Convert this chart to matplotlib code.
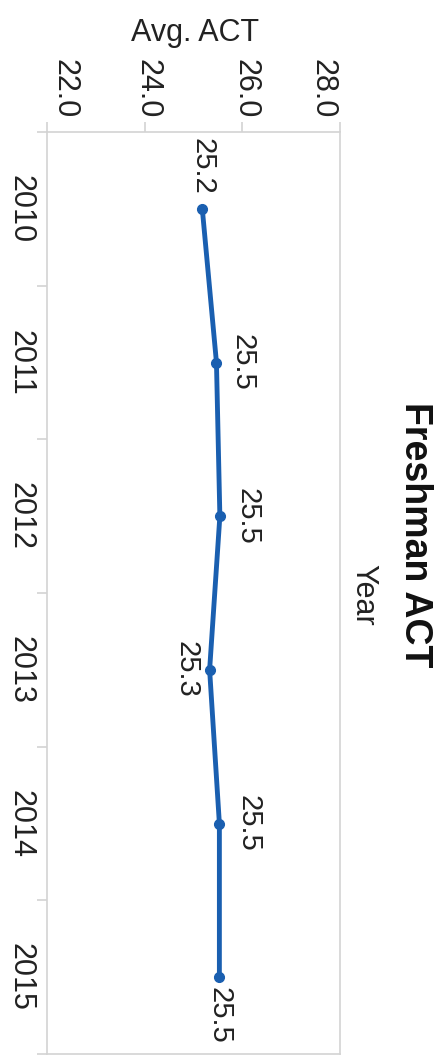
import matplotlib.pyplot as plt
from matplotlib.ticker import FixedLocator
from matplotlib.transforms import ScaledTranslation

plt.rcParams['font.family'] = ['Liberation Sans', 'DejaVu Sans']

years = [2010, 2011, 2012, 2013, 2014, 2015]
act = [25.18, 25.47, 25.54, 25.33, 25.53, 25.53]
x_ticks = [22, 24, 26, 28]

line_color = '#1a5fb0'
grey = '#d3d3d3'
txt = '#222222'

fig = plt.figure(figsize=(4.41, 10.57), dpi=100)
ax = fig.add_axes([47/441, 3/1057, 293/441, 922/1057])

ax.plot(act, years, color=line_color, lw=3.5, marker='o', ms=7, solid_capstyle='round')

ax.set_xlim(22, 28)
ax.set_ylim(2015.5, 2009.5)

# value axis on top, labels rotated
ax.xaxis.tick_top()
ax.set_xticks(x_ticks)
ax.set_xticklabels(['%.1f' % v for v in x_ticks], rotation=-90, fontsize=22, color=txt)
ax.tick_params(axis='x', which='major', length=7, width=1.2, color=grey, pad=3)

# end labels kept inside the axis range
xl = ax.get_xticklabels()
xl[0].set_transform(xl[0].get_transform() + ScaledTranslation(17/100, 0, fig.dpi_scale_trans))
xl[-1].set_transform(xl[-1].get_transform() + ScaledTranslation(-18/100, 0, fig.dpi_scale_trans))
for t in xl[1:-1]:
    t.set_transform(t.get_transform() + ScaledTranslation(3/100, 0, fig.dpi_scale_trans))

# year axis
ax.set_yticks(years)
ax.set_yticklabels([str(y) for y in years], rotation=-90, va='center', fontsize=22, color=txt)
ax.yaxis.set_minor_locator(FixedLocator([y - 0.5 for y in years] + [years[-1] + 0.5]))
ax.tick_params(axis='y', which='major', length=0, pad=8)
ax.tick_params(axis='y', which='minor', length=7, width=1.2, color=grey)

for s in ax.spines.values():
    s.set_color(grey)
    s.set_linewidth(1.2)

# data labels
offsets = [(0, 10, 'center', 'bottom'),
           (19, 0, 'center', 'center'),
           (20, 0, 'center', 'center'),
           (-17, 0, 'center', 'center'),
           (21, 0, 'center', 'center'),
           (0, -7, 'center', 'top')]
for v, y, (dx, dy, ha, va) in zip(act, years, offsets):
    ax.annotate('%.1f' % v, (v, y), xytext=(dx, dy), textcoords='offset points',
                rotation=-90, ha=ha, va=va, fontsize=21, color=txt)

fig.text(195/441, 1 - 33/1057, 'Avg. ACT', ha='center', va='center', fontsize=22, color=txt)
fig.text(363/441, 1 - 595/1057, 'Year', rotation=-90, ha='center', va='center', fontsize=22, color=txt)
fig.text(415/441, 1 - 535/1057, 'Freshman ACT', rotation=-90, ha='center', va='center',
         fontsize=27, fontweight='bold', color='#111111')

fig.savefig('out.png', dpi=100)
